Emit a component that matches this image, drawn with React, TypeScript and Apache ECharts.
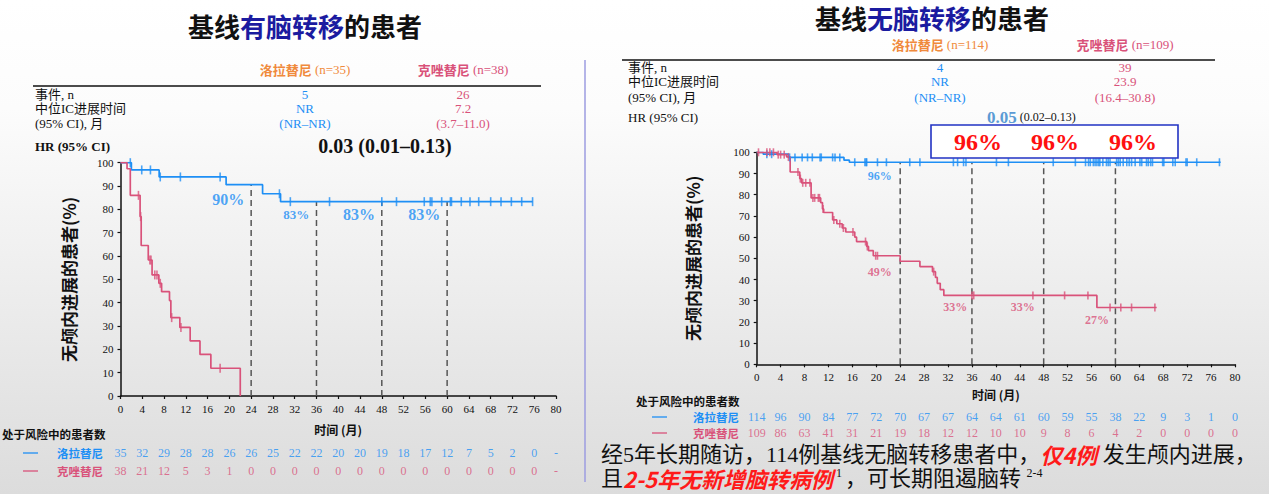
import React, { useEffect, useRef } from "react";
import * as echarts from "echarts";

// ---------- data ----------
const timeTicks = [0, 4, 8, 12, 16, 20, 24, 28, 32, 36, 40, 44, 48, 52, 56, 60, 64, 68, 72, 76, 80];
const milestones = [24, 36, 48, 60];

// Left panel (baseline brain metastases)
const leftLorSteps = [[0, 100], [2.0, 96.9], [7.1, 93.9], [19.4, 90.6], [26.1, 86.7], [29.4, 83.3], [75.7, 83.3]];
const leftLorCensor = [1.8, 3.9, 5.5, 7.3, 11.0, 18.3, 29.2, 31.2, 38.4, 48.0, 50.7, 55.8, 56.9, 57.2, 59.0, 60.6, 60.8, 62.6, 64.2, 65.8, 68.0, 69.9, 71.8, 73.7, 75.7];
const leftCriSteps = [[0, 100], [1.2, 97.4], [1.8, 86.0], [3.6, 76.9], [3.8, 64.5], [5.1, 58.3], [5.8, 51.9], [7.05, 48.3], [7.55, 44.7], [9.0, 40.9], [9.25, 33.6], [10.9, 29.4], [12.8, 23.6], [14.6, 17.8], [16.6, 11.9], [22.0, 11.9], [22.0, 0]];
const leftCriCensor = [3.3, 3.7, 5.4, 5.6, 6.3, 6.7, 7.3, 9.4, 11.1, 18.3];
const leftRiskLor = [35, 32, 29, 28, 28, 26, 26, 25, 22, 22, 20, 20, 19, 18, 17, 12, 7, 5, 2, 0, "-"];
const leftRiskCri = [38, 21, 12, 5, 3, 1, 0, 0, 0, 0, 0, 0, 0, 0, 0, 0, 0, 0, 0, 0, "-"];
const leftPctText = ["90%", "83%", "83%", "83%"];
const leftPctAt = [[19.8, 84.4], [32.3, 77.6], [43.8, 77.6], [55.8, 77.6]];
const leftPctSize = [16, 13, 16, 16];

// Right panel (no baseline brain metastases)
const rightLorSteps = [[0, 100], [1.1, 99.1], [5.3, 97.6], [14.6, 96.3], [15.5, 95.3], [77.6, 95.3]];
const rightLorCensor = [1.7, 2.5, 5.5, 6.4, 7.6, 8.5, 9.3, 10.6, 10.8, 12.7, 13.1, 13.9, 16.4, 18.1, 18.3, 18.4, 20.2, 21.7, 25.6, 27.3, 32.9, 33.6, 34.6, 35.0, 40.1, 42.1, 49.6, 53.3, 55.0, 55.5, 55.8, 56.3, 56.6, 56.9, 57.2, 57.4, 57.9, 58.5, 58.8, 59.1, 60.2, 60.5, 60.8, 61.3, 61.9, 62.3, 62.7, 63.3, 64.1, 64.4, 65.2, 65.5, 65.9, 66.2, 67.9, 68.1, 69.6, 70.0, 71.8, 72.0, 73.6, 77.4];
const rightCriSteps = [[0, 100], [3.4, 98.9], [5.0, 97.8], [5.6, 90.7], [7.2, 87.6], [7.5, 85.6], [9.1, 78.5], [10.7, 76.3], [11.0, 73.3], [11.2, 71.6], [12.7, 68.1], [13.4, 66.3], [14.3, 64.3], [14.9, 62.4], [16.4, 60.0], [16.7, 57.9], [18.4, 55.6], [18.7, 53.6], [19.5, 51.2], [24.0, 48.6], [27.3, 46.1], [29.4, 43.7], [29.9, 41.0], [30.2, 38.2], [30.7, 35.2], [31.3, 32.5], [56.9, 26.8], [66.9, 26.8]];
const rightCriCensor = [0.3, 1.7, 2.2, 2.8, 3.6, 4.0, 4.6, 5.3, 6.9, 7.3, 7.7, 8.2, 8.9, 9.4, 9.7, 10.3, 10.5, 11.1, 12.9, 13.9, 14.5, 16.1, 18.2, 18.5, 19.9, 20.2, 29.6, 36.0, 36.3, 46.2, 51.5, 55.4, 59.1, 60.9, 62.7, 66.6];
const rightRiskLor = [114, 96, 90, 84, 77, 72, 70, 67, 67, 64, 64, 61, 60, 59, 55, 38, 22, 9, 3, 1, 0];
const rightRiskCri = [109, 86, 63, 41, 31, 21, 19, 18, 12, 12, 10, 10, 9, 8, 6, 4, 2, 0, 0, 0, 0];
const rightPctLorText = ["96%"];
const rightPctLorAt = [[20.6, 88.8]];
const rightPctCriText = ["49%", "33%", "33%", "27%"];
const rightPctCriAt = [[20.6, 43.7], [33.2, 27.2], [44.5, 27.2], [56.9, 21.0]];

const leftTable = { lor: ["5", "NR", "(NR–NR)"], cri: ["26", "7.2", "(3.7–11.0)"] };
const rightTable = { lor: ["4", "NR", "(NR–NR)"], cri: ["39", "23.9", "(16.4–30.8)"] };
const rowLabels = ["事件, n", "中位IC进展时间", "(95% CI), 月"];

// ---------- styles ----------
const BLUE = "#1e8ff5";
const PINK = "#d9527a";
const ORANGE = "#f08a3c";
const SERIF = "'Liberation Serif','Noto Sans CJK SC',serif";
const SANS = "'Noto Sans CJK SC','Noto Sans',sans-serif";

function levelAt(steps: number[][], t: number) {
  let v = steps[0][1];
  for (const [x, y] of steps) {
    if (x <= t) v = y;
    else break;
  }
  return v;
}

function kmSeries(g: number, steps: number[][], censor: number[], color: string, tick: number) {
  return [
    {
      type: "line", xAxisIndex: g, yAxisIndex: g, step: "end", symbol: "none", z: 3,
      data: steps, lineStyle: { color, width: 1.7 }, silent: true,
    },
    {
      type: "scatter", xAxisIndex: g, yAxisIndex: g, symbol: "rect", symbolSize: [1.6, tick], z: 4,
      data: censor.map((t) => [t, levelAt(steps, t)]), itemStyle: { color }, silent: true,
    },
  ];
}

function dashSeries(g: number, steps: number[][]) {
  return milestones.map((t) => ({
    type: "line", xAxisIndex: g, yAxisIndex: g, symbol: "none", z: 1, silent: true,
    data: [[t, 0], [t, levelAt(steps, t)]],
    lineStyle: { color: "#555", width: 1.5, type: [6, 4] },
  }));
}

function labelSeries(g: number, texts: string[], at: number[][], color: string, sizes: number[] | number) {
  return {
    type: "scatter", xAxisIndex: g, yAxisIndex: g, symbolSize: 1, z: 5, silent: true,
    itemStyle: { color: "rgba(0,0,0,0)" },
    data: texts.map((s, i) => ({
      value: at[i], name: s,
      label: { fontSize: Array.isArray(sizes) ? sizes[i] : sizes },
    })),
    label: { show: true, position: "inside", formatter: "{b}", color, fontFamily: SERIF, fontWeight: "bold" },
  };
}

function riskSeries(g: number, values: (number | string)[], row: number, color: string, size: number) {
  return {
    type: "scatter", xAxisIndex: g, yAxisIndex: g, symbolSize: 1, silent: true,
    itemStyle: { color: "rgba(0,0,0,0)" },
    data: values.map((v, i) => ({ value: [timeTicks[i], row], name: String(v) })),
    label: { show: true, position: "inside", formatter: "{b}", color, fontFamily: SERIF, fontSize: size },
  };
}

function kmAxes(g: number, grid: number, nameGapX: number, nameGapY: number) {
  const common = {
    axisLine: { show: true, onZero: false, lineStyle: { color: "#111", width: 1.5 } },
    axisTick: { show: true, length: 3, lineStyle: { color: "#111", width: 1.2 } },
    splitLine: { show: false },
    axisLabel: { color: "#111", fontFamily: SERIF, fontSize: 11, margin: 7 },
  };
  return {
    x: {
      ...common, type: "value", gridIndex: grid, min: 0, max: 80, interval: 4,
      name: "时间 (月)", nameLocation: "middle", nameGap: nameGapX,
      nameTextStyle: { fontFamily: SANS, fontWeight: "bold", fontSize: 12, color: "#111" },
    },
    y: {
      ...common, type: "value", gridIndex: grid, min: 0, max: 100, interval: 10,
      name: "无颅内进展的患者(%)", nameLocation: "middle", nameGap: nameGapY,
      nameTextStyle: { fontFamily: SANS, fontWeight: "bold", fontSize: 17, color: "#111" },
    },
  };
}

function txt(x: number, y: number, text: string, o: any = {}) {
  return {
    type: "text", x, y, silent: true, z: 10,
    style: {
      text, fill: o.fill || "#111", fontFamily: o.font || SERIF, fontSize: o.size || 13,
      fontWeight: o.weight || "normal", fontStyle: o.style || "normal",
      align: o.align || "left", verticalAlign: o.va || "middle", rich: o.rich,
    },
  };
}

function header(x: number, y: number, name: string, n: string, color: string) {
  return txt(x, y, `{c|${name}}{n| ${n}}`, {
    align: "center",
    rich: {
      c: { fill: color, fontFamily: SANS, fontWeight: "bold", fontSize: 13, lineHeight: 15 },
      n: { fill: color, fontFamily: SERIF, fontSize: 13, lineHeight: 15 },
    },
  });
}

function title(x: number, y: number, mid: string) {
  const base = { fontFamily: SANS, fontWeight: "bold", fontSize: 26, lineHeight: 26 };
  return txt(x, y, `{k|基线}{b|${mid}}{k|的患者}`, {
    align: "center",
    rich: { k: { ...base, fill: "#111" }, b: { ...base, fill: "#1b1ba0" } },
  });
}

function table(cx1: number, cx2: number, xl: number, ys: number[], t: { lor: string[]; cri: string[] }) {
  const out: any[] = [];
  rowLabels.forEach((s, i) => out.push(txt(xl, ys[i], s)));
  t.lor.forEach((s, i) => out.push(txt(cx1, ys[i], s, { align: "center", fill: BLUE })));
  t.cri.forEach((s, i) => out.push(txt(cx2, ys[i], s, { align: "center", fill: PINK })));
  return out;
}

function dash(x1: number, x2: number, y: number, color: string) {
  return { type: "line", silent: true, shape: { x1, y1: y, x2, y2: y }, style: { stroke: color, lineWidth: 1.3 } };
}

function riskLabels(x0: number, yt: number, y1: number, y2: number, xd: number, xn: number) {
  return [
    txt(x0, yt, "处于风险中的患者数", { font: SANS, weight: "bold", size: 11.5 }),
    dash(xd, xd + 15, y1, BLUE),
    txt(xn, y1, "洛拉替尼", { font: SANS, weight: "bold", size: 11.5, fill: BLUE }),
    dash(xd, xd + 15, y2, PINK),
    txt(xn, y2, "克唑替尼", { font: SANS, weight: "bold", size: 11.5, fill: PINK }),
  ];
}

export default function App() {
  const ref = useRef<HTMLDivElement>(null);
  useEffect(() => {
    if (!ref.current) return;
    const chart = echarts.init(ref.current, null, { renderer: "svg" });
    const lAx = kmAxes(0, 0, 27, 44);
    const rAx = kmAxes(1, 1, 24, 56);
    const riskX = (grid: number) => ({ type: "value", gridIndex: grid, min: 0, max: 80, show: false });
    const riskY = (grid: number) => ({ type: "category", gridIndex: grid, data: ["洛拉替尼", "克唑替尼"], inverse: true, show: false });

    const bodyN = { fill: "#111", fontFamily: SERIF, fontSize: 22, lineHeight: 22 };
    const bodyR = { fill: "#ff1a1a", fontFamily: SANS, fontSize: 22, lineHeight: 22, fontWeight: "bold", fontStyle: "italic" };

    const graphics: any[] = [
      { type: "line", silent: true, shape: { x1: 585, y1: 60, x2: 585, y2: 482 }, style: { stroke: "#9c9ce0", lineWidth: 1.5 } },
      title(305, 25, "有脑转移"),
      title(932, 17, "无脑转移"),
      header(305, 69, "洛拉替尼", "(n=35)", ORANGE),
      header(463, 69, "克唑替尼", "(n=38)", PINK),
      { type: "line", silent: true, shape: { x1: 33, y1: 86, x2: 541, y2: 86 }, style: { stroke: "#111", lineWidth: 1.5 } },
      ...table(305, 463, 35, [94, 108, 123], leftTable),
      txt(35, 146, "HR (95% CI)", { weight: "bold", size: 13 }),
      txt(385, 146, "0.03 (0.01–0.13)", { weight: "bold", size: 20, align: "center" }),
      header(940, 44, "洛拉替尼", "(n=114)", ORANGE),
      header(1125, 44, "克唑替尼", "(n=109)", PINK),
      { type: "line", silent: true, shape: { x1: 622, y1: 60, x2: 1215, y2: 60 }, style: { stroke: "#111", lineWidth: 1.5 } },
      ...table(940, 1125, 628, [67, 81, 97], rightTable),
      txt(628, 117, "HR (95% CI)", { size: 13 }),
      txt(987, 117, "{b|0.05}{n| (0.02–0.13)}", {
        rich: {
          b: { fill: "#5b9bd5", fontFamily: SERIF, fontWeight: "bold", fontSize: 17 },
          n: { fill: "#111", fontFamily: SERIF, fontSize: 12 },
        },
      }),
      { type: "rect", silent: true, z: 6, shape: { x: 931, y: 125, width: 247, height: 33 }, style: { fill: "#fff", stroke: "#2233c4", lineWidth: 1.6 } },
      txt(978, 142, "96%", { weight: "bold", size: 24, fill: "#ff1010", align: "center" }),
      txt(1055, 142, "96%", { weight: "bold", size: 24, fill: "#ff1010", align: "center" }),
      txt(1133, 142, "96%", { weight: "bold", size: 24, fill: "#ff1010", align: "center" }),
      ...riskLabels(2, 434, 453, 471, 23, 57),
      ...riskLabels(636, 401, 417, 433, 652, 693),
      txt(601, 454, "{n|经5年长期随访，114例基线无脑转移患者中，}{r|仅4例}{n| 发生颅内进展，}", {
        rich: { n: bodyN, r: bodyR },
      }),
      txt(601, 478, "{n|且}{r|2-5年无新增脑转病例}{s| 1 }{n|，可长期阻遏脑转 }{s|2-4}", {
        rich: {
          n: bodyN,
          r: bodyR,
          s: { fill: "#111", fontFamily: SERIF, fontSize: 12, verticalAlign: "top" },
        },
      }),
    ];

    chart.setOption({
      animation: false,
      backgroundColor: "transparent",
      grid: [
        { left: 120.5, top: 162.7, width: 435.5, height: 233.3 },
        { left: 756.7, top: 152.3, width: 478.3, height: 212 },
        { left: 120.5, top: 444, width: 435.5, height: 36 },
        { left: 756.7, top: 409, width: 478.3, height: 32 },
      ],
      xAxis: [lAx.x, rAx.x, riskX(2), riskX(3)],
      yAxis: [lAx.y, rAx.y, riskY(2), riskY(3)],
      series: [
        ...dashSeries(0, leftLorSteps),
        ...kmSeries(0, leftLorSteps, leftLorCensor, BLUE, 9),
        ...kmSeries(0, leftCriSteps, leftCriCensor, PINK, 9),
        labelSeries(0, leftPctText, leftPctAt, BLUE, leftPctSize),
        ...dashSeries(1, rightLorSteps),
        ...kmSeries(1, rightLorSteps, rightLorCensor, BLUE, 8),
        ...kmSeries(1, rightCriSteps, rightCriCensor, PINK, 8),
        labelSeries(1, rightPctLorText, rightPctLorAt, BLUE, 12),
        labelSeries(1, rightPctCriText, rightPctCriAt, PINK, 12),
        riskSeries(2, leftRiskLor, 0, BLUE, 12),
        riskSeries(2, leftRiskCri, 1, PINK, 12),
        riskSeries(3, rightRiskLor, 0, BLUE, 12),
        riskSeries(3, rightRiskCri, 1, PINK, 12),
      ],
      graphic: graphics,
    });
    return () => chart.dispose();
  }, []);
  return (
    <div
      ref={ref}
      style={{
        position: "absolute", left: 0, top: 0, width: 1269, height: 494,
        background: "linear-gradient(to bottom, #ffffff 0%, #fcfcfc 22%, #dcdcdc 100%)",
      }}
    />
  );
}
